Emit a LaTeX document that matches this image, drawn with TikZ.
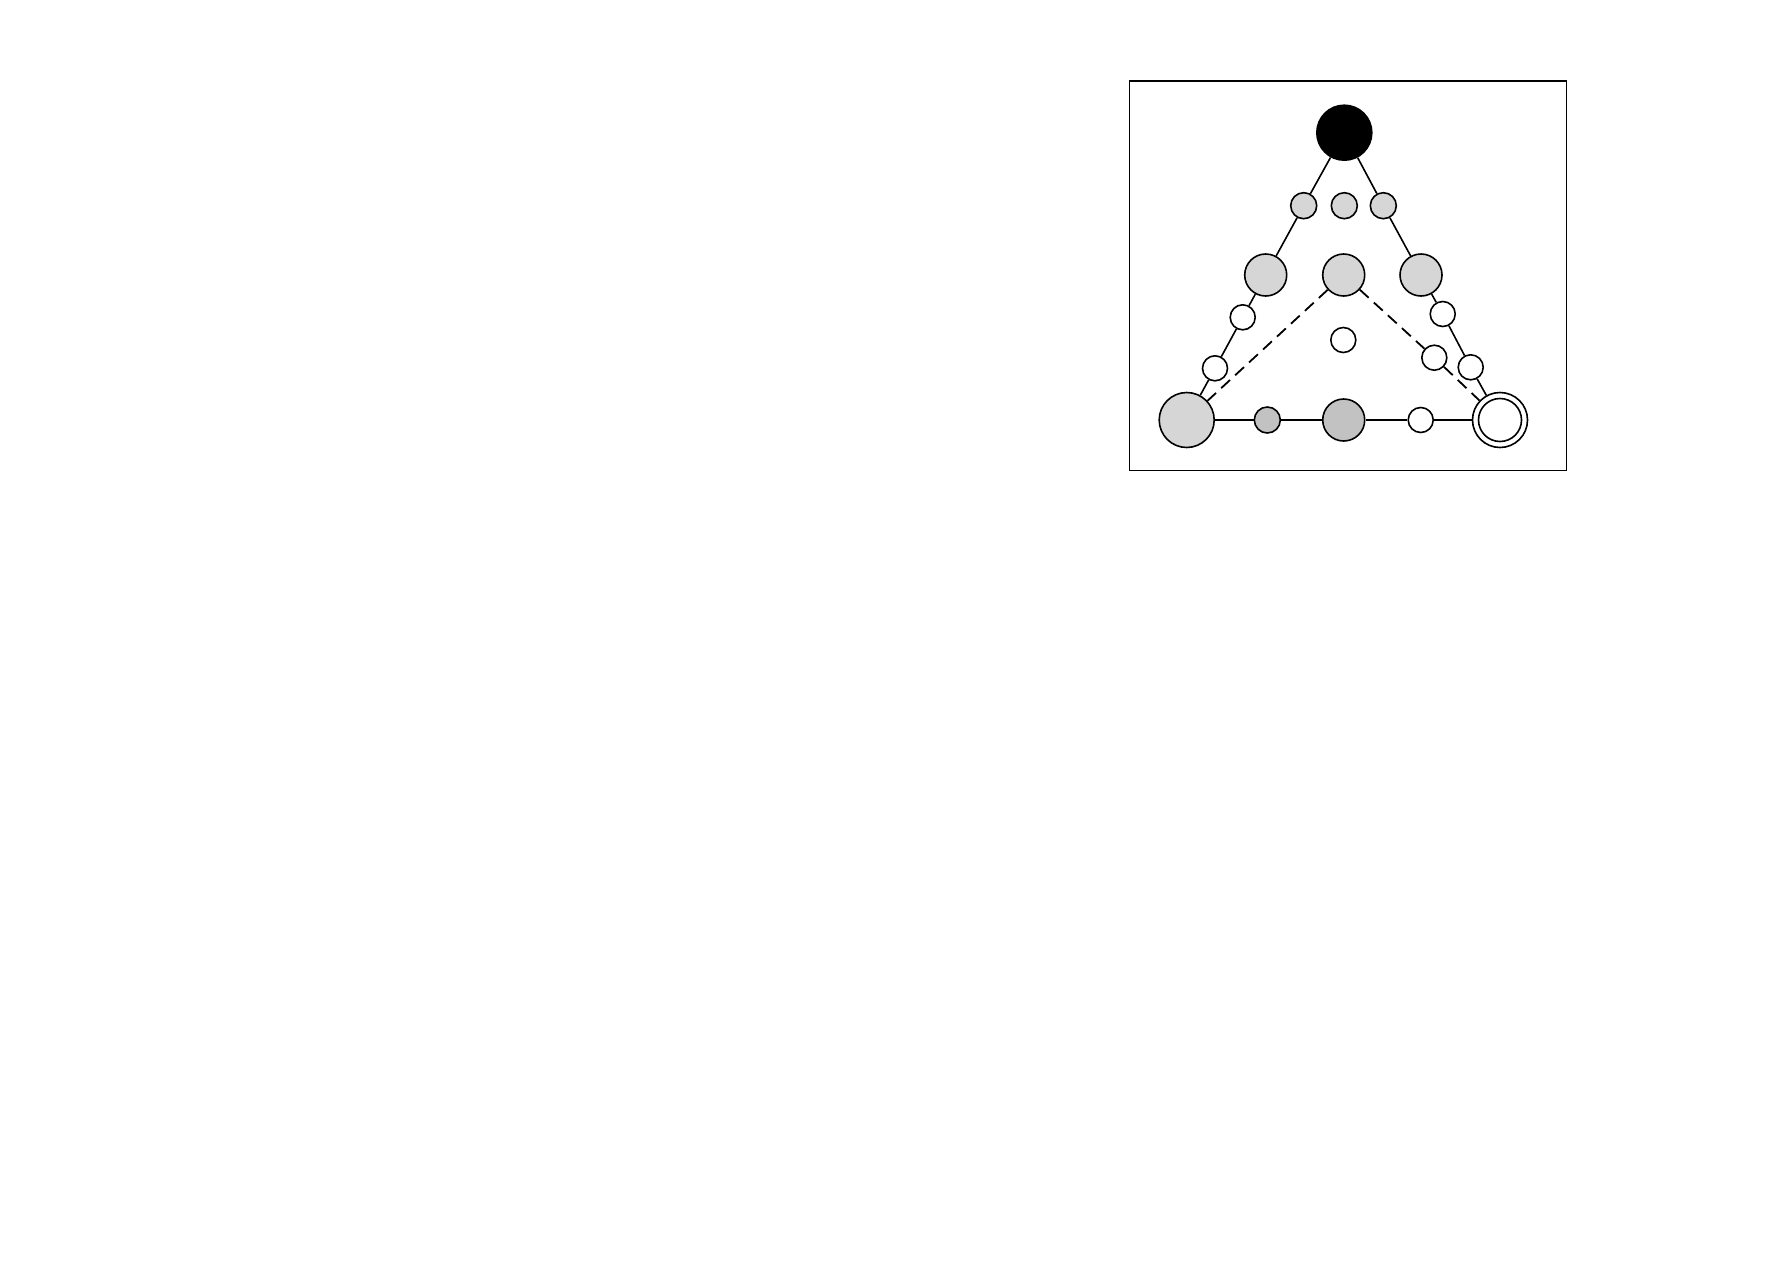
\documentclass[tikz,border=0pt]{standalone}
\begin{document}
\begin{tikzpicture}[x=1pt,y=-1pt,
  circ/.style={circle,draw=black,line width=1.6pt,inner sep=0pt},
  big/.style={circ,minimum size=55pt},
  mid/.style={circ,minimum size=42pt},
  sml/.style={circ,minimum size=26pt},
  wsml/.style={circ,minimum size=25pt,fill=white},
  lgray/.style={fill=black!16},
  dgray/.style={fill=black!24},
  edge/.style={line width=1.6pt},
  dedge/.style={line width=1.8pt,dash pattern=on 12pt off 7pt}]
\useasboundingbox (0,0) rectangle (1787,1263);
\draw[line width=1.8pt] (1129.5,81) rectangle (1566.5,470.5);
% nodes
\node[big,fill=black] (top) at (1344.3,132.7) {};
\node[sml,lgray] (a1) at (1303.7,205.7) {};
\node[sml,lgray] (a2) at (1344.3,205.7) {};
\node[sml,lgray] (a3) at (1383.3,205.7) {};
\node[mid,lgray] (b1) at (1265.7,275) {};
\node[mid,lgray] (b2) at (1343.7,275) {};
\node[mid,lgray] (b3) at (1421,275) {};
\node[wsml] (c1) at (1242.7,317.3) {};
\node[wsml] (c2) at (1215,368.3) {};
\node[wsml] (cc) at (1343.3,340) {};
\node[wsml] (r1) at (1442.7,314) {};
\node[wsml] (r2) at (1434.3,357.7) {};
\node[wsml] (r3) at (1470.7,367.3) {};
\node[big,lgray] (bl) at (1186.7,420) {};
\node[sml,dgray] (d1) at (1267.3,420) {};
\node[mid,dgray] (d2) at (1343.7,420) {};
\node[wsml] (d3) at (1420.7,420) {};
\node[big,fill=white] (br) at (1500,420) {};
\node[circ,minimum size=43pt,fill=white] (bri) at (1500,420) {};
% connectors
\draw[edge] (top) -- (a1);
\draw[edge] (a1) -- (b1);
\draw[edge] (b1) -- (c1);
\draw[edge] (c1) -- (c2);
\draw[edge] (c2) -- (bl);
\draw[edge] (top) -- (a3);
\draw[edge] (a3) -- (b3);
\draw[edge] (b3) -- (r1);
\draw[edge] (r1) -- (r3);
\draw[edge] (r3) -- (br);
\draw[edge] (bl) -- (d1);
\draw[edge] (d1) -- (d2);
\draw[edge] (d2) -- (d3);
\draw[edge] (d3) -- (br);
\draw[dedge] (b2) -- (bl);
\draw[dedge] (b2) -- (r2);
\draw[dedge] (r2) -- (br);
\end{tikzpicture}
\end{document}
